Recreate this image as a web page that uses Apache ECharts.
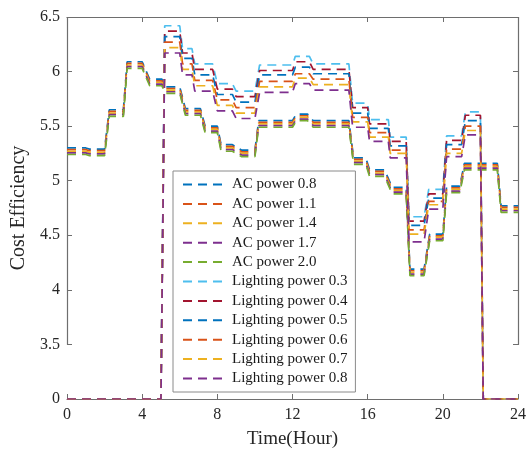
<!DOCTYPE html>
<html>
<head>
<meta charset="utf-8">
<script src="https://cdn.jsdelivr.net/npm/echarts@6/dist/echarts.min.js"></script>
<style>
  html, body { margin: 0; padding: 0; background: #fff; }
  #chart { width: 532px; height: 454px; }
</style>
</head>
<body>
<div id="chart"></div>
<script>
// Hour marks where the AC-power curves change level
const acTime = [0, 1.0, 1.2, 2.0, 2.25, 3.0, 3.2, 4.0, 4.4, 5.05,
  5.25, 6.0, 6.3, 7.1, 7.35, 8.0, 8.2, 8.8, 9.3, 10.0,
  10.2, 12.0, 12.2, 12.8, 13.1, 15.0, 15.25, 15.9, 16.1, 16.9,
  17.3, 18.05, 18.25, 19.0, 19.3, 20.0, 20.2, 20.9, 21.15, 22.9,
  23.1, 24];

const acPower08 = [5.30, 5.30, 5.29, 5.29, 5.65, 5.65, 6.09, 6.09, 5.93, 5.93,
  5.86, 5.86, 5.66, 5.66, 5.50, 5.50, 5.33, 5.33, 5.28, 5.28,
  5.55, 5.55, 5.61, 5.61, 5.55, 5.55, 5.21, 5.21, 5.10, 5.10,
  4.94, 4.94, 4.19, 4.19, 4.51, 4.51, 4.95, 4.95, 5.16, 5.16,
  4.77, 4.77];
const acPower11 = [5.285, 5.285, 5.275, 5.275, 5.635, 5.635, 6.075, 6.075, 5.915, 5.915,
  5.845, 5.845, 5.645, 5.645, 5.485, 5.485, 5.315, 5.315, 5.265, 5.265,
  5.535, 5.535, 5.595, 5.595, 5.535, 5.535, 5.195, 5.195, 5.085, 5.085,
  4.925, 4.925, 4.175, 4.175, 4.495, 4.495, 4.935, 4.935, 5.145, 5.145,
  4.755, 4.755];
const acPower14 = [5.27, 5.27, 5.26, 5.26, 5.62, 5.62, 6.06, 6.06, 5.90, 5.90,
  5.83, 5.83, 5.63, 5.63, 5.47, 5.47, 5.30, 5.30, 5.25, 5.25,
  5.52, 5.52, 5.58, 5.58, 5.52, 5.52, 5.18, 5.18, 5.07, 5.07,
  4.91, 4.91, 4.16, 4.16, 4.48, 4.48, 4.92, 4.92, 5.13, 5.13,
  4.74, 4.74];
const acPower17 = [5.255, 5.255, 5.245, 5.245, 5.605, 5.605, 6.045, 6.045, 5.885, 5.885,
  5.815, 5.815, 5.615, 5.615, 5.455, 5.455, 5.285, 5.285, 5.235, 5.235,
  5.505, 5.505, 5.565, 5.565, 5.505, 5.505, 5.165, 5.165, 5.055, 5.055,
  4.895, 4.895, 4.145, 4.145, 4.465, 4.465, 4.905, 4.905, 5.115, 5.115,
  4.725, 4.725];
const acPower20 = [5.24, 5.24, 5.23, 5.23, 5.59, 5.59, 6.03, 6.03, 5.87, 5.87,
  5.80, 5.80, 5.60, 5.60, 5.44, 5.44, 5.27, 5.27, 5.22, 5.22,
  5.49, 5.49, 5.55, 5.55, 5.49, 5.49, 5.15, 5.15, 5.04, 5.04,
  4.88, 4.88, 4.13, 4.13, 4.45, 4.45, 4.89, 4.89, 5.10, 5.10,
  4.71, 4.71];

// Hour marks where the lighting-power curves change level
const lightTime = [0, 5.0, 5.2, 6.0, 6.15, 6.65, 6.8, 7.75, 8.0, 8.8,
  9.0, 10.0, 10.25, 12.0, 12.15, 12.9, 13.1, 15.0, 15.2, 16.0,
  16.1, 17.1, 17.2, 18.05, 18.2, 19.0, 19.25, 20.0, 20.2, 21.0,
  21.2, 22.0, 22.15, 24];

const lightPower03 = [0, 0, 6.42, 6.42, 6.21, 6.21, 6.07, 6.07, 5.89, 5.89,
  5.82, 5.82, 6.06, 6.06, 6.14, 6.14, 6.07, 6.07, 5.71, 5.71,
  5.56, 5.56, 5.40, 5.40, 4.67, 4.67, 4.92, 4.92, 5.41, 5.41,
  5.63, 5.63, 0, 0];
const lightPower04 = [0, 0, 6.37, 6.37, 6.17, 6.17, 6.02, 6.02, 5.84, 5.84,
  5.77, 5.77, 6.01, 6.01, 6.09, 6.09, 6.02, 6.02, 5.67, 5.67,
  5.52, 5.52, 5.36, 5.36, 4.63, 4.63, 4.88, 4.88, 5.37, 5.37,
  5.60, 5.60, 0, 0];
const lightPower05 = [0, 0, 6.32, 6.32, 6.12, 6.12, 5.97, 5.97, 5.79, 5.79,
  5.72, 5.72, 5.97, 5.97, 6.04, 6.04, 5.98, 5.98, 5.62, 5.62,
  5.48, 5.48, 5.32, 5.32, 4.59, 4.59, 4.84, 4.84, 5.33, 5.33,
  5.55, 5.55, 0, 0];
const lightPower06 = [0, 0, 6.27, 6.27, 6.07, 6.07, 5.92, 5.92, 5.74, 5.74,
  5.67, 5.67, 5.91, 5.91, 5.98, 5.98, 5.93, 5.93, 5.58, 5.58,
  5.44, 5.44, 5.28, 5.28, 4.55, 4.55, 4.81, 4.81, 5.29, 5.29,
  5.50, 5.50, 0, 0];
const lightPower07 = [0, 0, 6.22, 6.22, 6.02, 6.02, 5.87, 5.87, 5.69, 5.69,
  5.62, 5.62, 5.86, 5.86, 5.94, 5.94, 5.88, 5.88, 5.54, 5.54,
  5.40, 5.40, 5.25, 5.25, 4.51, 4.51, 4.78, 4.78, 5.25, 5.25,
  5.46, 5.46, 0, 0];
const lightPower08 = [0, 0, 6.17, 6.17, 5.97, 5.97, 5.82, 5.82, 5.64, 5.64,
  5.57, 5.57, 5.81, 5.81, 5.89, 5.89, 5.83, 5.83, 5.49, 5.49,
  5.36, 5.36, 5.21, 5.21, 4.44, 4.44, 4.74, 4.74, 5.22, 5.22,
  5.42, 5.42, 0, 0];

const seriesNames = ['AC power 0.8', 'AC power 1.1', 'AC power 1.4', 'AC power 1.7', 'AC power 2.0',
  'Lighting power 0.3', 'Lighting power 0.4', 'Lighting power 0.5',
  'Lighting power 0.6', 'Lighting power 0.7', 'Lighting power 0.8'];
const seriesValues = [acPower08, acPower11, acPower14, acPower17, acPower20,
  lightPower03, lightPower04, lightPower05, lightPower06, lightPower07, lightPower08];
const seriesTimes = [acTime, acTime, acTime, acTime, acTime,
  lightTime, lightTime, lightTime, lightTime, lightTime, lightTime];

const palette = ['#0072BD', '#D95319', '#EDB120', '#7E2F8E', '#77AC30',
  '#4DBEEE', '#A2142F', '#0072BD', '#D95319', '#EDB120', '#7E2F8E'];

const FONT = 'Liberation Serif';
const axisColor = '#6e6e6e';
// the value axis skips the empty span between 0 and 3.5
const yBreaks = [{ start: 0, end: 3.5, gap: 0.5 }];

const chart = echarts.init(document.getElementById('chart'), null, { renderer: 'canvas' });

const xCommon = {
  type: 'value', min: 0, max: 24, interval: 4,
  axisLine: { show: true, onZero: false, lineStyle: { color: axisColor, width: 1.2 } },
  axisTick: { show: true, inside: true, length: 5, lineStyle: { color: axisColor } },
  splitLine: { show: false }
};
const yCommon = {
  type: 'value', min: 0, max: 6.5, interval: 0.5,
  breaks: yBreaks,
  breakArea: { show: false },
  axisLine: { show: true, onZero: false, lineStyle: { color: axisColor, width: 1.2 } },
  axisTick: { show: true, inside: true, length: 5, lineStyle: { color: axisColor } },
  splitLine: { show: false }
};

chart.setOption({
  animation: false,
  backgroundColor: '#fff',
  grid: { left: 67, right: 14, top: 17, bottom: 54, containLabel: false },
  xAxis: [
    Object.assign({}, xCommon, {
      position: 'bottom',
      name: 'Time(Hour)', nameLocation: 'middle', nameGap: 31,
      nameTextStyle: { fontFamily: FONT, fontSize: 19, color: '#262626' },
      axisLabel: { fontFamily: FONT, fontSize: 16, color: '#262626', margin: 8 }
    }),
    Object.assign({}, xCommon, { position: 'top', axisLabel: { show: false } })
  ],
  yAxis: [
    Object.assign({}, yCommon, {
      position: 'left',
      name: 'Cost Efficiency', nameLocation: 'middle', nameGap: 36,
      nameTextStyle: { fontFamily: FONT, fontSize: 20, color: '#262626' },
      axisLabel: {
        fontFamily: FONT, fontSize: 16, color: '#262626', margin: 7,
        formatter: v => String(Math.round(v * 10) / 10)
      }
    }),
    Object.assign({}, yCommon, { position: 'right', axisLabel: { show: false } })
  ],
  legend: {
    orient: 'vertical',
    left: 173, top: 171,
    padding: [6, 8, 6, 9],
    itemWidth: 44, itemHeight: 15, itemGap: 4.4,
    backgroundColor: '#fff',
    borderColor: '#8a8a8a', borderWidth: 1,
    itemStyle: { opacity: 0 },
    textStyle: { fontFamily: FONT, fontSize: 15, color: '#1a1a1a', lineHeight: 15 },
    data: seriesNames
  },
  series: seriesNames.map((name, i) => ({
    name: name,
    type: 'line',
    symbol: 'none',
    xAxisIndex: 0, yAxisIndex: 0,
    color: palette[i],
    lineStyle: { color: palette[i], width: 1.7, type: [9, 6] },
    data: seriesTimes[i].map((t, k) => [t, seriesValues[i][k]]),
    z: 2 + i
  }))
});
</script>
</body>
</html>
